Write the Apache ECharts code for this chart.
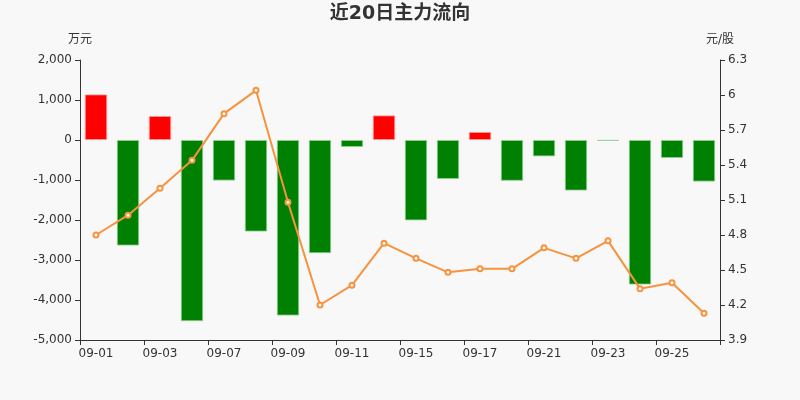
<!DOCTYPE html>
<html>
<head>
<meta charset="utf-8">
<script src="https://cdn.jsdelivr.net/npm/echarts@6/dist/echarts.min.js"></script>
<style>
html,body{margin:0;padding:0;background:#f8f8f8;}
#c{width:800px;height:400px;}
</style>
</head>
<body>
<div id="c"></div>
<script>
var categories = ['09-01','09-02','09-03','09-04','09-07','09-08','09-09','09-10','09-11','09-14','09-15','09-16','09-17','09-18','09-21','09-22','09-23','09-24','09-25','09-28'];
var flowValues = [1140,-2640,600,-4530,-1015,-2290,-4390,-2830,-175,615,-2010,-975,200,-1020,-410,-1265,-20,-3615,-450,-1040];
var priceValues = [4.80,4.97,5.20,5.44,5.84,6.04,5.08,4.20,4.37,4.73,4.60,4.48,4.51,4.51,4.69,4.60,4.75,4.34,4.39,4.13];

var chart = echarts.init(document.getElementById('c'));
var textColor = '#333';
var font = 'DejaVu Sans, Noto Sans CJK SC, sans-serif';
chart.setOption({
  backgroundColor: '#f8f8f8',
  animation: false,
  textStyle: {fontFamily: font},
  title: {
    text: '近20日主力流向',
    left: 'center',
    top: 2,
    padding: [3, 5, 5, 5],
    textStyle: {fontSize: 19, fontWeight: 'bold', color: '#333', fontFamily: font}
  },
  grid: {left: 80, right: 80, top: 60, bottom: 60},
  xAxis: [{
    type: 'category',
    data: categories,
    position: 'bottom',
    axisLine: {show: false},
    axisTick: {show: false},
    axisLabel: {interval: 1, color: textColor, fontSize: 12, margin: 8, fontFamily: font}
  }, {
    type: 'category',
    data: categories,
    position: 'bottom',
    axisLine: {show: true, onZero: true, lineStyle: {color: '#333'}},
    axisTick: {show: true, interval: 1, lineStyle: {color: '#333'}},
    axisLabel: {show: false}
  }],
  yAxis: [{
    type: 'value',
    name: '万元',
    nameGap: 14,
    nameTextStyle: {color: textColor, fontSize: 12, fontFamily: font},
    min: -5000, max: 2000, interval: 1000,
    splitLine: {show: false},
    axisLine: {show: true, lineStyle: {color: '#333'}},
    axisTick: {show: true},
    axisLabel: {color: textColor, fontSize: 12, fontFamily: font, formatter: function(v){ return v.toLocaleString('en-US'); }}
  }, {
    type: 'value',
    name: '元/股',
    nameGap: 14,
    nameTextStyle: {color: textColor, fontSize: 12, fontFamily: font},
    min: 3.9, max: 6.3, interval: 0.3,
    splitLine: {show: false},
    axisLine: {show: true, lineStyle: {color: '#333'}},
    axisTick: {show: true},
    axisLabel: {color: textColor, fontSize: 12, fontFamily: font, formatter: function(v){ return String(parseFloat(v.toFixed(2))); }}
  }],
  series: [{
    type: 'bar',
    xAxisIndex: 0,
    yAxisIndex: 0,
    barWidth: '70%',
    data: flowValues.map(function(v){
      return {value: v, itemStyle: {color: v >= 0 ? '#ff0000' : '#008000', borderColor: v >= 0 ? 'rgba(255,150,150,0.8)' : 'rgba(150,210,150,0.8)', borderWidth: 1}};
    })
  }, {
    type: 'line',
    xAxisIndex: 0,
    yAxisIndex: 1,
    data: priceValues,
    symbol: 'emptyCircle',
    symbolSize: 5,
    itemStyle: {color: '#f7923e'},
    lineStyle: {color: '#f7923e', width: 2}
  }]
});
</script>
</body>
</html>
